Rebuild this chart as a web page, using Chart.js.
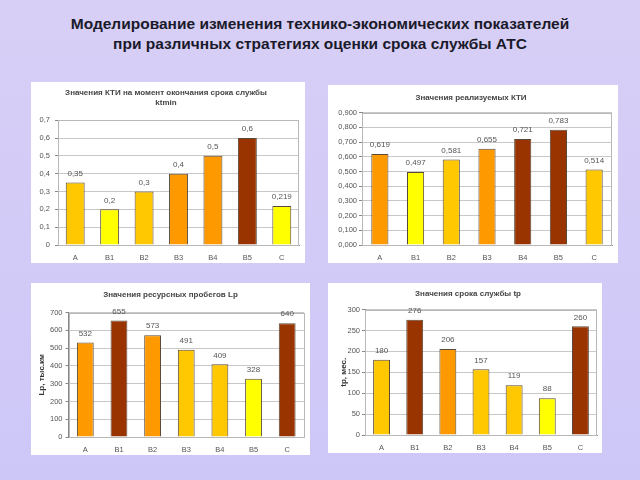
<!DOCTYPE html>
<html>
<head>
<meta charset="utf-8">
<script src="https://cdn.jsdelivr.net/npm/chart.js@4"></script>
<style>
  html, body { margin: 0; padding: 0; }
  body {
    width: 640px; height: 480px; overflow: hidden; position: relative;
    background: linear-gradient(#d8cff6, #cdc7f8);
    font-family: "Liberation Sans", Arial, sans-serif;
  }
  #title {
    position: absolute; left: 0; top: 14px; width: 640px;
    text-align: center; font-weight: bold; font-size: 15.5px; line-height: 20px; color: #1a1a2a;
  }
  .panel { position: absolute; background: #fff; }
  .panel canvas { display: block; }
</style>
</head>
<body>
<div id="title">Моделирование изменения технико-экономических показателей<br>при различных стратегиях оценки срока службы АТС</div>
<div class="panel" id="p1" style="left:31px;top:82px;width:274px;height:181px"><canvas id="c1" width="274" height="181"></canvas></div>
<div class="panel" id="p2" style="left:328px;top:85px;width:290px;height:178px"><canvas id="c2" width="290" height="178"></canvas></div>
<div class="panel" id="p3" style="left:31px;top:283px;width:279px;height:172px"><canvas id="c3" width="279" height="172"></canvas></div>
<div class="panel" id="p4" style="left:328px;top:283px;width:274px;height:170px"><canvas id="c4" width="274" height="170"></canvas></div>
<script>
// Категории (стратегии)
const categories = ['A', 'B1', 'B2', 'B3', 'B4', 'B5', 'C'];

// Значения КТИ на момент окончания срока службы
const ktiMin = [0.35, 0.2, 0.3, 0.4, 0.5, 0.6, 0.219];
// Значения реализуемых КТИ
const ktiReal = [0.619, 0.497, 0.581, 0.655, 0.721, 0.783, 0.514];
// Ресурсные пробеги Lp, тыс. км
const probeg = [532, 655, 573, 491, 409, 328, 640];
// Срок службы tp, мес.
const srok = [180, 276, 206, 157, 119, 88, 260];

// Цвета столбцов
const Y = '#ffff00', G = '#ffc800', O = '#ff9900', R = '#993300';
const colors1 = [G, Y, G, O, O, R, Y];
const colors2 = [O, Y, G, O, R, R, G];
const colors3 = [O, R, O, G, G, Y, R];
const colors4 = [G, R, O, G, G, Y, R];

const FONT = '"Liberation Sans", Arial, sans-serif';

/**
 * Плагин: подписи значений над столбцами и рамка области построения
 * @param {Function} fmt - форматирование подписи
 */
function makeLabelPlugin(fmt) {
  return {
    id: 'barLabels',
    beforeDatasetsDraw(chart) {
      const a = chart.chartArea;
      const ctx = chart.ctx;
      ctx.save();
      ctx.strokeStyle = '#b8b8b8';
      ctx.lineWidth = 1;
      ctx.strokeRect(Math.round(a.left) + 0.5, Math.round(a.top) + 0.5,
        Math.round(a.right - a.left) - 1, Math.round(a.bottom - a.top));
      ctx.restore();
    },
    afterDatasetsDraw(chart) {
      const ctx = chart.ctx;
      const ds = chart.data.datasets[0];
      ctx.save();
      ctx.font = '8px ' + FONT;
      ctx.fillStyle = '#555';
      ctx.textAlign = 'center';
      ctx.textBaseline = 'bottom';
      chart.getDatasetMeta(0).data.forEach((bar, i) => {
        ctx.fillText(fmt(ds.data[i]), bar.x, bar.y - 5);
      });
      ctx.restore();
    }
  };
}

/**
 * Создание столбчатой диаграммы
 */
function makeChart(canvasId, values, colors, cfg) {
  const ctx = document.getElementById(canvasId).getContext('2d');
  return new Chart(ctx, {
    type: 'bar',
    data: {
      labels: categories,
      datasets: [{
        data: values,
        backgroundColor: colors,
        borderColor: '#5a4a3a',
        borderWidth: 1,
        barPercentage: cfg.barPct,
        categoryPercentage: 1
      }]
    },
    options: {
      responsive: false,
      animation: false,
      layout: { padding: { left: cfg.padLeft, right: cfg.padRight, top: 0, bottom: 0 } },
      plugins: {
        legend: { display: false },
        tooltip: { enabled: false },
        title: {
          display: true,
          text: cfg.title,
          color: '#444',
          font: { family: FONT, size: 8, weight: 'bold' },
          padding: { top: cfg.titleTop, bottom: cfg.titleBottom },
          lineHeight: 1.25
        }
      },
      scales: {
        x: {
          afterFit(scale) { scale.height = 18; },
          grid: { display: false, tickLength: 0 },
          border: { color: '#888' },
          ticks: { color: '#555', font: { family: FONT, size: 7.5 }, padding: 8, autoSkip: false, maxRotation: 0 }
        },
        y: {
          min: 0,
          max: cfg.max,
          afterFit(scale) { scale.width = cfg.axisWidth; },
          border: { color: '#888' },
          grid: { color: '#c8c8c8', tickLength: 3, tickColor: '#888' },
          title: cfg.yTitle ? {
            display: true,
            text: cfg.yTitle,
            color: '#333',
            font: { family: FONT, size: 8, weight: 'bold' },
            padding: 0
          } : { display: false },
          ticks: {
            stepSize: cfg.step,
            autoSkip: false,
            color: '#555',
            padding: cfg.tickPad,
            font: { family: FONT, size: 7.5 },
            callback: cfg.tickFormat
          }
        }
      }
    },
    plugins: [makeLabelPlugin(cfg.labelFormat)]
  });
}

const comma = (s) => String(s).replace('.', ',');

makeChart('c1', ktiMin, colors1, {
  title: ['Значения КТИ на момент окончания срока службы', 'ktmin'],
  titleTop: 6, titleBottom: 13,
  max: 0.7, step: 0.1, barPct: 0.55,
  padLeft: 2, padRight: 6, axisWidth: 25, tickPad: 5,
  tickFormat: (v) => v === 0 ? '0' : comma(v.toFixed(1)),
  labelFormat: (v) => comma(v)
});

makeChart('c2', ktiReal, colors2, {
  title: 'Значения реализуемых КТИ',
  titleTop: 8, titleBottom: 10,
  max: 0.9, step: 0.1, barPct: 0.48,
  padLeft: 2, padRight: 6, axisWidth: 32, tickPad: 2,
  tickFormat: (v) => comma(v.toFixed(3)),
  labelFormat: (v) => comma(v.toFixed(3))
});

makeChart('c3', probeg, colors3, {
  title: 'Значения ресурсных пробегов Lp',
  titleTop: 7, titleBottom: 13,
  max: 700, step: 100, barPct: 0.5,
  padLeft: 6, padRight: 6, axisWidth: 31.5, tickPad: 3,
  yTitle: 'Lp, тыс.км',
  tickFormat: (v) => String(v),
  labelFormat: (v) => String(v)
});

makeChart('c4', srok, colors4, {
  title: 'Значения срока службы tp',
  titleTop: 6, titleBottom: 11,
  max: 300, step: 50, barPct: 0.51,
  padLeft: 11, padRight: 5, axisWidth: 26, tickPad: 2,
  yTitle: 'tp, мес.',
  tickFormat: (v) => String(v),
  labelFormat: (v) => String(v)
});
</script>
</body>
</html>
